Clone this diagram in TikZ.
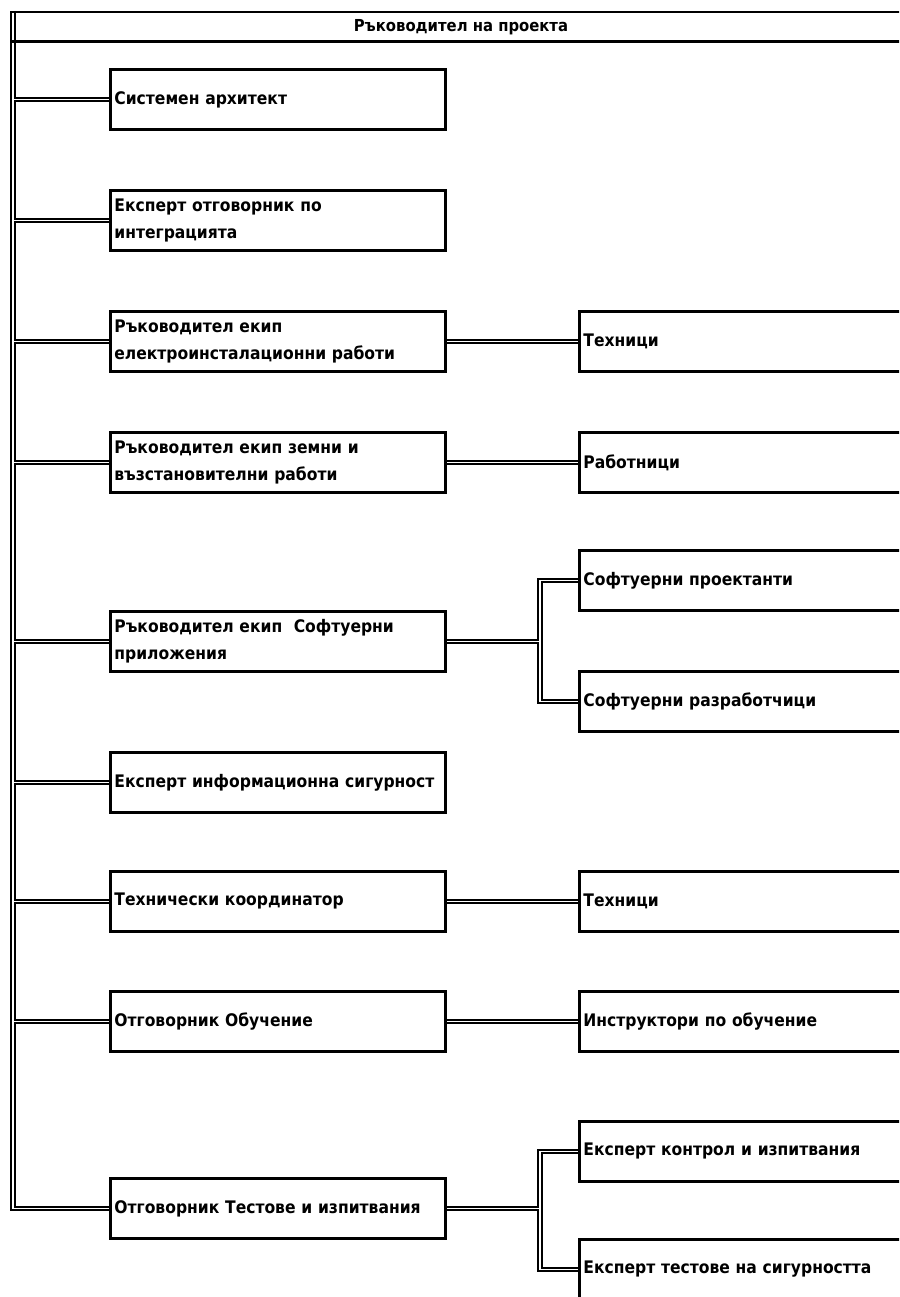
\documentclass[tikz,border=0pt]{standalone}
\usepackage{fontspec}
\setmainfont{DejaVu Sans Condensed}
\pgfdeclarelayer{paper}
\pgfdeclarelayer{bg}
\pgfsetlayers{paper,bg,main}
\tikzset{
  lbl/.style={font=\fontsize{17.3}{27}\selectfont\bfseries},
  box/.style={lbl, draw=black, line width=2.8pt, fill=white, anchor=north west,
    minimum height=60pt, text width=327pt, inner xsep=4pt, inner ysep=2pt, align=left},
  rbox/.style={box, text width=330pt},
  outerline/.style={line width=5.6pt, black, line join=miter},
  innerline/.style={line width=1.6pt, white, line join=miter},
  topline/.style={line width=2.8pt, black},
}
\newcommand\allconns[1]{%
  \draw[#1] (tr) |- (b9.west);
  \foreach \n in {b1,b2,b3,b4,b5,b6,b7,b8} { \draw[#1] (\n.west) -- (\n.west -| tr); }
  \draw[#1] (b3.east) -- (r3.west);
  \draw[#1] (b4.east) -- (r4.west);
  \draw[#1] (b7.east) -- (r7.west);
  \draw[#1] (b8.east) -- (r8.west);
  \draw[#1] (b5.east) -- (b5.east -| sx);
  \draw[#1] (r5a.west) -| (b5.east -| sx) |- (r5b.west);
  \draw[#1] (b9.east) -- (b9.east -| sx);
  \draw[#1] (r9a.west) -| (b9.east -| sx) |- (r9b.west);
}
\begin{document}
\begin{tikzpicture}[x=1pt, y=-1pt]
\useasboundingbox (0,0) rectangle (899,1297);
\begin{pgfonlayer}{paper}
  \fill[white] (0,0) rectangle (899,1297);
\end{pgfonlayer}
\clip (0,0) rectangle (899,1297);
% top box
\node[lbl, anchor=north west, minimum width=900pt, minimum height=29pt, inner sep=0pt] (top) at (12,12) {};
\node[lbl, font=\fontsize{16.5}{18}\selectfont\bfseries] (title) at (461,27) {Ръководител на проекта};
\draw[topline] (top.north west) -- (top.north east);
\draw[topline] (top.south west) -- (top.south east);
\coordinate (tr) at (13,11);
\coordinate (sx) at (540,0);
% level 1
\node[box] (b1) at (109,68) {Системен архитект};
\node[box] (b2) at (109,189) {Експерт отговорник по\\интеграцията};
\node[box] (b3) at (109,310) {Ръководител екип\\електроинсталационни работи};
\node[box] (b4) at (109,431) {Ръководител екип земни и\\възстановителни работи};
\node[box] (b5) at (109,610) {Ръководител екип\ \ Софтуерни\\приложения};
\node[box] (b6) at (109,751) {Експерт информационна сигурност};
\node[box] (b7) at (109,870) {Технически координатор};
\node[box] (b8) at (109,990) {Отговорник Обучение};
\node[box] (b9) at (109,1177) {Отговорник Тестове и изпитвания};
% level 2
\node[rbox] (r3) at (578,310) {Техници};
\node[rbox] (r4) at (578,431) {Работници};
\node[rbox] (r5a) at (578,549) {Софтуерни проектанти};
\node[rbox] (r5b) at (578,670) {Софтуерни разработчици};
\node[rbox] (r7) at (578,870) {Техници};
\node[rbox] (r8) at (578,990) {Инструктори по обучение};
\node[rbox] (r9a) at (578,1120) {Експерт контрол и изпитвания};
\node[rbox] (r9b) at (578,1238) {Експерт тестове на сигурността};
\begin{pgfonlayer}{bg}
  \allconns{outerline}
  \allconns{innerline}
\end{pgfonlayer}
\end{tikzpicture}
\end{document}
